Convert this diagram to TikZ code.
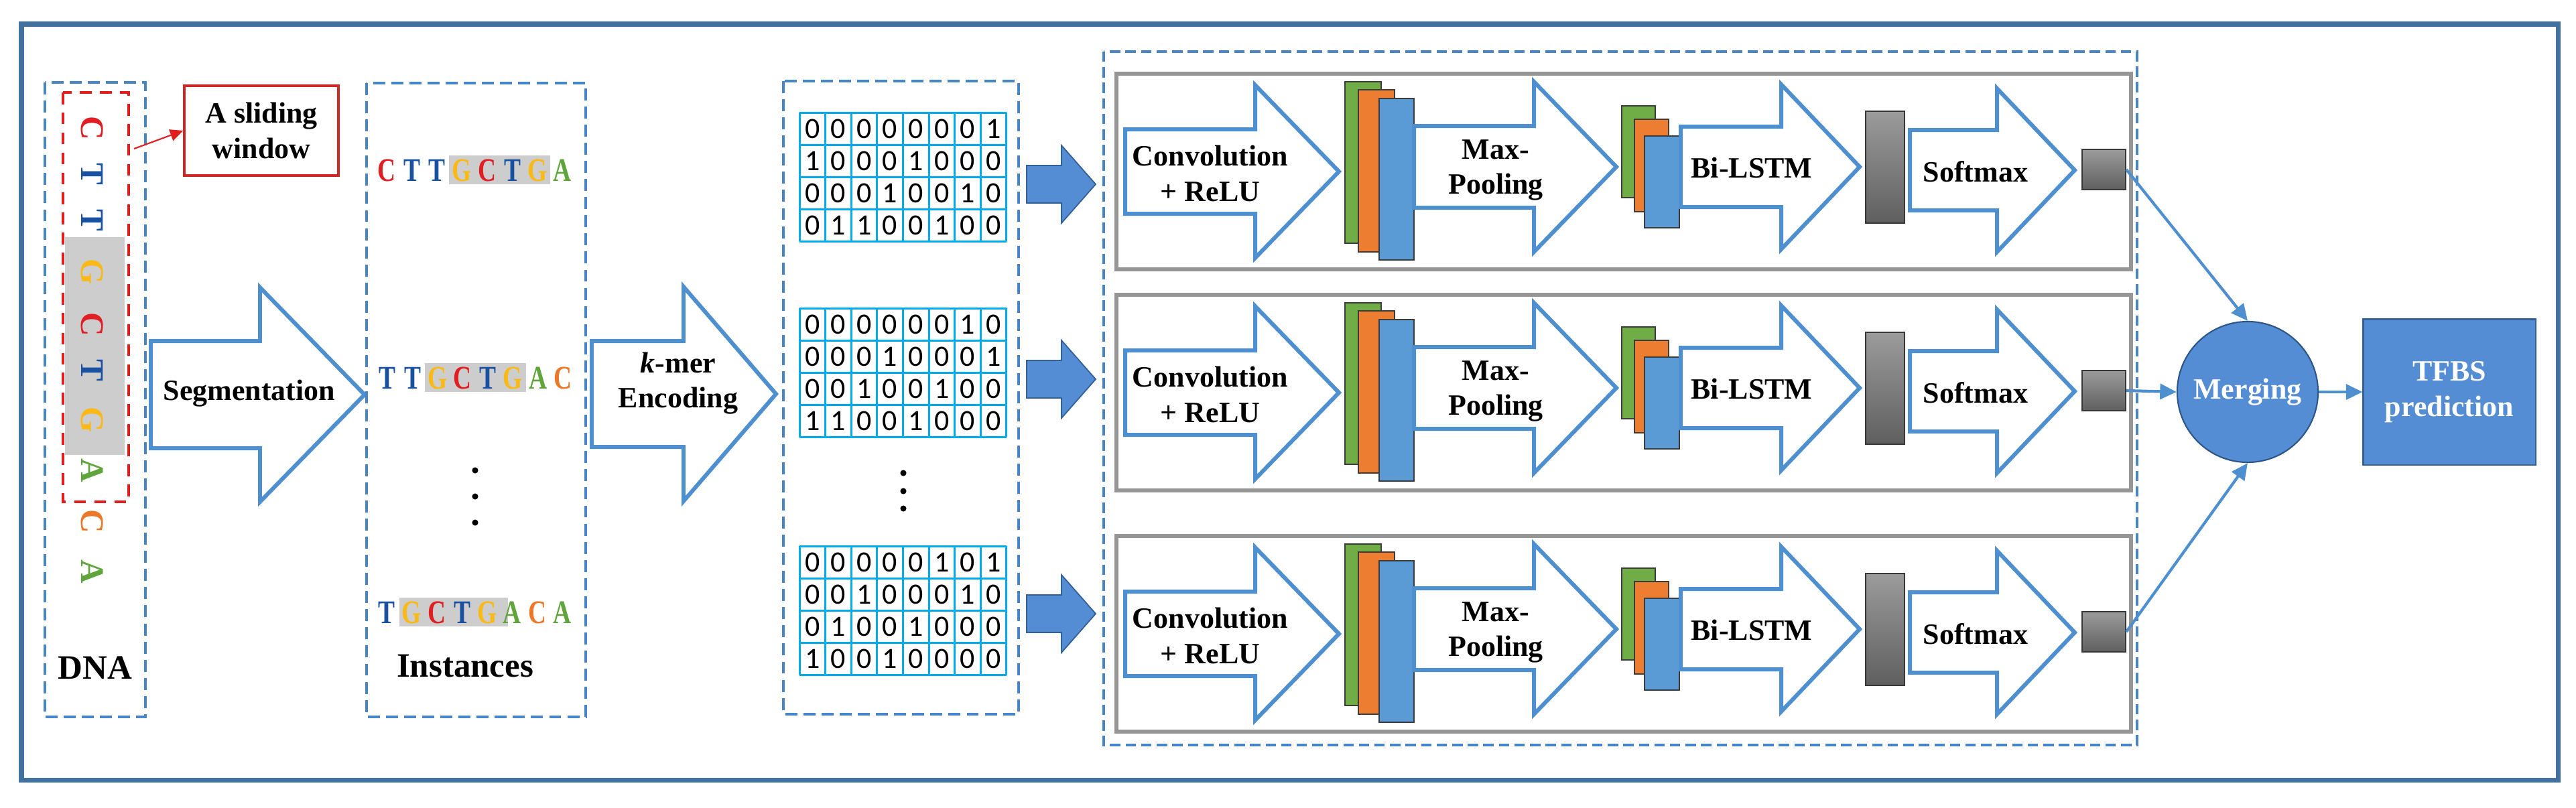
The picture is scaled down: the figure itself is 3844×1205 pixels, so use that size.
\documentclass[tikz,border=0pt]{standalone}
\usepackage{fontspec}
\setmainfont{Liberation Serif}
\newfontfamily\digitfont{Carlito}
\usetikzlibrary{arrows.meta}
\definecolor{frameblue}{RGB}{65,113,156}
\definecolor{dashblue}{RGB}{72,132,200}
\definecolor{arrowblue}{RGB}{78,143,208}
\definecolor{fillblue}{RGB}{84,141,212}
\definecolor{solidedge}{RGB}{50,95,150}
\definecolor{matline}{RGB}{0,170,235}
\definecolor{mapgreen}{RGB}{112,173,71}
\definecolor{maporange}{RGB}{237,125,49}
\definecolor{mapblue}{RGB}{91,155,213}
\definecolor{mapedge}{RGB}{60,60,60}
\definecolor{dnaC}{RGB}{225,30,35}
\definecolor{dnaT}{RGB}{25,80,160}
\definecolor{dnaG}{RGB}{250,185,20}
\definecolor{dnaA}{RGB}{95,165,60}
\definecolor{dnaO}{RGB}{235,120,40}
\definecolor{hlgray}{RGB}{205,205,205}
\definecolor{redline}{RGB}{225,30,30}
\definecolor{redbox}{RGB}{205,40,40}
\definecolor{rowgray}{RGB}{150,150,150}
\definecolor{graytop}{RGB}{155,155,155}
\definecolor{graybot}{RGB}{95,95,95}
\definecolor{grayedge}{RGB}{55,55,55}
\definecolor{mergeedge}{RGB}{45,85,135}
\tikzset{
 lbl/.style={font=\bfseries\fontsize{12.5}{15}\selectfont, align=center, inner sep=0pt},
 biglbl/.style={font=\bfseries\fontsize{14.5}{17}\selectfont, inner sep=0pt},
 base/.style={font=\bfseries\fontsize{14}{16}\selectfont, inner sep=0pt},
 bluedash/.style={draw=dashblue, line width=1.4pt, dash pattern=on 5.1pt off 2.6pt},
 netdash/.style={draw=dashblue, line width=1.2pt, dash pattern=on 4.4pt off 2.2pt},
 reddash/.style={draw=redline, line width=1.4pt, dash pattern=on 5pt off 3.5pt},
 blockarr/.style={draw=arrowblue, line width=1.7pt, fill=white, line join=miter},
 solidarr/.style={draw=solidedge, line width=0.5pt, fill=fillblue},
 rowbox/.style={draw=rowgray, line width=1.5pt},
 fmap/.style={draw=mapedge, line width=0.6pt},
 grayblk/.style={draw=grayedge, line width=0.6pt, top color=graytop, bottom color=graybot},
 matgridline/.style={draw=matline, line width=0.85pt},
 digit/.style={font=\digitfont\fontsize{12.5}{14}\selectfont, inner sep=0pt},
 conn/.style={draw=arrowblue, line width=1.2pt, -{Triangle[length=7pt,width=6.5pt]}},
 redarr/.style={draw=redline, line width=0.6pt, -{Triangle[length=5.5pt,width=5pt]}},
}
% [style] x0 cy neck tip bodyhalf headhalf
\newcommand{\blkarrow}[7][]{%
 \draw[blockarr,#1] (#2,#3-#6) -- (#4,#3-#6) -- (#4,#3-#7) -- (#5,#3) -- (#4,#3+#7) -- (#4,#3+#6) -- (#2,#3+#6) -- cycle;}
% name y digits
\newcommand{\matrow}[3]{%
 \foreach \dg [count=\nn] in {#3} {\node[digit] (#1c\nn) at (1193+38.6*\nn-19.3,#2) {\dg};}}
% name xstart y list
\newcommand{\seqrow}[4]{%
 \foreach \col/\lt [count=\nn] in {#4} {\node[base, text=\col] (#1\nn) at (#2+37.5*\nn-37.5,#3) {\scalebox{0.76}[1]{\lt}};}}
\begin{document}
\begin{tikzpicture}[x=0.01cm,y=-0.01cm]
\fill[white] (0,0) rectangle (3844,1205);
\useasboundingbox (0,0) rectangle (3844,1205);
\draw[draw=frameblue, line width=2pt] (32,36) rectangle (3817,1164);

% ---------- DNA column ----------
\draw[bluedash] (67,123) rectangle (217,1070);
\fill[hlgray] (97,354) rectangle (186,679);
\foreach \yy/\col/\lt [count=\nn] in {191/dnaC/C,260/dnaT/T,329/dnaT/T,406/dnaG/G,484/dnaC/C,553/dnaT/T,627/dnaG/G,702/dnaA/A,778/dnaO/C,853/dnaA/A}
  {\node[base, text=\col, rotate=-90] (dna\nn) at (138,\yy) {\lt};}
\draw[reddash] (94,138) rectangle (192,749);
\node[lbl, draw=redbox, line width=0.9pt, minimum width=2.3cm, minimum height=1.34cm] (slide) at (390,195) {A sliding\\window};
\coordinate (winA) at (200,222);
\draw[redarr] (winA) -- (slide.west);
\node[biglbl] (dnalbl) at (142,997) {DNA};

% ---------- Segmentation arrow ----------
\blkarrow{225}{589}{388}{544}{80}{160}
\node[lbl] (seglbl) at (372,587) {Segmentation};

% ---------- Instances ----------
\draw[bluedash] (547,124) rectangle (874,1070);
\fill[hlgray] (670,232) rectangle (821,275);
\fill[hlgray] (634,542) rectangle (785,585);
\fill[hlgray] (596,892) rectangle (758,935);
\seqrow{ra}{577}{254}{dnaC/C,dnaT/T,dnaT/T,dnaG/G,dnaC/C,dnaT/T,dnaG/G,dnaA/A}
\seqrow{rb}{578}{564}{dnaT/T,dnaT/T,dnaG/G,dnaC/C,dnaT/T,dnaG/G,dnaA/A,dnaO/C}
\seqrow{rc}{577}{914}{dnaT/T,dnaG/G,dnaC/C,dnaT/T,dnaG/G,dnaA/A,dnaO/C,dnaA/A}
\foreach \yy in {702,741,780} {\fill (709,\yy) circle[radius=1.3pt];}
\node[biglbl] (instlbl) at (694,994) {Instances};

% ---------- k-mer arrow ----------
\blkarrow{883}{588}{1020}{1158}{79}{160}
\node[lbl] (kmerlbl) at (1012,572) {\textit{k}-mer\\Encoding};

% ---------- Matrices ----------
\draw[bluedash] (1169,121) rectangle (1520,1066);
\foreach \k/\tp in {1/168,2/460,3/815}{
  \foreach \ii in {0,...,8} {\draw[matgridline] (1193+38.6*\ii,\tp) -- (1193+38.6*\ii,\tp+192);}
  \foreach \jj in {0,...,4} {\draw[matgridline] (1193,\tp+48*\jj) -- (1501.8,\tp+48*\jj);}
}
\matrow{m1r1}{192}{0,0,0,0,0,0,0,1}
\matrow{m1r2}{240}{1,0,0,0,1,0,0,0}
\matrow{m1r3}{288}{0,0,0,1,0,0,1,0}
\matrow{m1r4}{336}{0,1,1,0,0,1,0,0}
\matrow{m2r1}{484}{0,0,0,0,0,0,1,0}
\matrow{m2r2}{532}{0,0,0,1,0,0,0,1}
\matrow{m2r3}{580}{0,0,1,0,0,1,0,0}
\matrow{m2r4}{628}{1,1,0,0,1,0,0,0}
\matrow{m3r1}{839}{0,0,0,0,0,1,0,1}
\matrow{m3r2}{887}{0,0,1,0,0,0,1,0}
\matrow{m3r3}{935}{0,1,0,0,1,0,0,0}
\matrow{m3r4}{983}{1,0,0,1,0,0,0,0}
\foreach \yy in {706,733,759} {\fill (1348,\yy) circle[radius=1.3pt];}

% solid arrows
\foreach \ay in {275,566,916} {\blkarrow[solidarr]{1532}{\ay}{1584}{1635}{28}{58}}

% ---------- Network ----------
\draw[netdash] (1647,77) rectangle (3189,1112);
\foreach \cy/\rw in {256/1,586/2,946/3}{
  \draw[rowbox] (1666,\cy-146) rectangle (3180,\cy+146);
  \blkarrow{1679}{\cy}{1873}{1998}{63}{129}
  \node[lbl] (conv\rw) at (1806,\cy+3) {Convolution\\+ ReLU};
  \draw[fmap, fill=mapgreen] (2007,\cy-134) rectangle (2061,\cy+107);
  \draw[fmap, fill=maporange] (2027,\cy-122) rectangle (2081,\cy+120);
  \draw[fmap, fill=mapblue] (2058,\cy-109) rectangle (2110,\cy+132);
  \blkarrow{2110}{\cy-7}{2289}{2412}{61}{127}
  \node[lbl] (pool\rw) at (2232,\cy-2) {Max-\\Pooling};
  \draw[fmap, fill=mapgreen] (2420,\cy-98) rectangle (2470,\cy+39);
  \draw[fmap, fill=maporange] (2439,\cy-78) rectangle (2490,\cy+60);
  \draw[fmap, fill=mapblue] (2454,\cy-53) rectangle (2506,\cy+84);
  \blkarrow{2508}{\cy-7}{2658}{2775}{60}{123}
  \node[lbl] (lstm\rw) at (2614,\cy-6) {Bi-LSTM};
  \draw[grayblk] (2784,\cy-90) rectangle (2842,\cy+77);
  \blkarrow{2850}{\cy-2}{2980}{3096}{60}{122}
  \node[lbl] (soft\rw) at (2948,\cy) {Softmax};
  \node[grayblk, minimum width=0.65cm, minimum height=0.6cm, inner sep=0pt] (sq\rw) at (3139.5,\cy-3) {};
}

% ---------- Merging and output ----------
\node[circle, draw=mergeedge, line width=0.6pt, fill=fillblue, minimum size=2.1cm, inner sep=0pt, lbl, text=white] (merge) at (3354,585) {Merging};
\node[draw=solidedge, line width=0.6pt, fill=fillblue, minimum width=2.57cm, minimum height=2.17cm, lbl, text=white] (tfbs) at (3655,585) {TFBS\\prediction};
\draw[conn] (sq1.east) -- (merge.north);
\draw[conn] (sq2.east) -- (merge.west);
\draw[conn] (sq3.east) -- (merge.south);
\draw[conn] (merge.east) -- (tfbs.west);
\end{tikzpicture}
\end{document}
